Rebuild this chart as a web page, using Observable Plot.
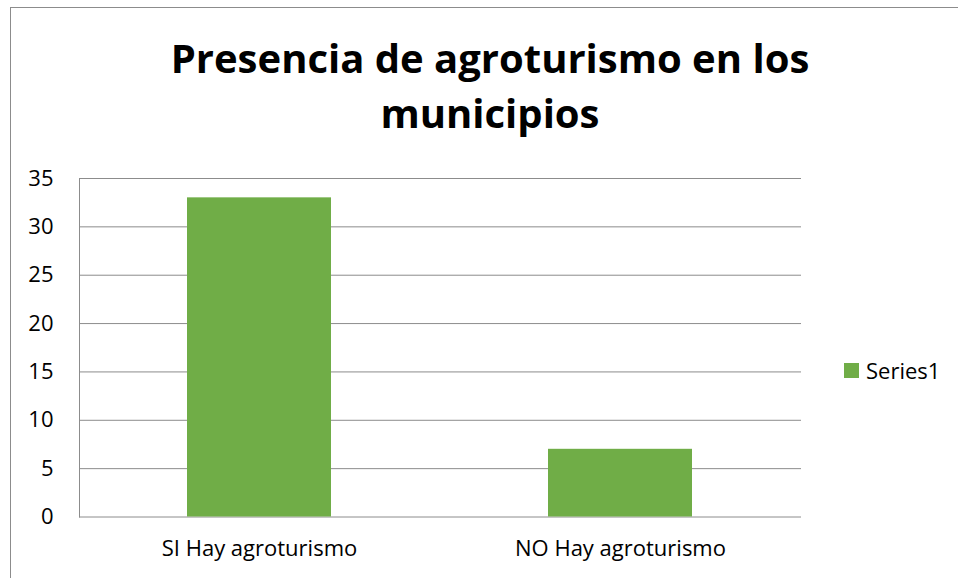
<!DOCTYPE html>
<html>
<head>
<meta charset="utf-8">
<script src="https://cdn.jsdelivr.net/npm/d3@7"></script>
<script src="https://cdn.jsdelivr.net/npm/@observablehq/plot@0.6"></script>
<style>
  html, body { margin: 0; padding: 0; background: #fff; }
  #wrap { position: relative; width: 958px; height: 578px; overflow: hidden; font-family: "Open Sans", sans-serif; }
  #frame { position: absolute; left: 10px; top: 7px; width: 1000px; height: 700px; border: 1px solid #8c8c8c; box-sizing: border-box; }
  #title { position: absolute; left: 90px; top: 0; width: 800px; height: 150px; text-align: center; font-weight: 700; font-size: 40px; line-height: 55px; padding-top: 30px; box-sizing: border-box; color: #000; }
  #chart { position: absolute; left: 0; top: 150px; }
  #legend { position: absolute; left: 844px; top: 355px; display: flex; align-items: center; font-size: 22px; color: #000; }
  #legend .sw { width: 15px; height: 15px; background: #70ad47; margin-right: 7px; }
</style>
</head>
<body>
<div id="wrap">
  <div id="frame"></div>
  <div id="title">Presencia de agroturismo en los<br>municipios</div>
  <div id="chart"></div>
  <div id="legend"><div class="sw"></div><span>Series1</span></div>
</div>
<script>
const categories = ["SI Hay agroturismo", "NO Hay agroturismo"];
const values = [33, 7];
const yTicks = [0, 5, 10, 15, 20, 25, 30, 35];
const seriesName = "Series1";

const data = categories.map((c, i) => ({ category: c, value: values[i] }));

const chart = Plot.plot({
  width: 958,
  height: 428,
  marginLeft: 79,
  marginRight: 157,
  marginTop: 28,
  marginBottom: 61.5,
  style: { fontFamily: "Open Sans, sans-serif", fontSize: "22px", color: "#000", background: "transparent" },
  x: { domain: categories, paddingInner: 0.6, paddingOuter: 0.3, label: null },
  y: { domain: [0, 35], label: null },
  marks: [
    Plot.gridY(yTicks, { stroke: "#8c8c8c", strokeOpacity: 1, strokeWidth: 1 }),
    Plot.frame({ anchor: "left", stroke: "#8c8c8c", strokeWidth: 1 }),
    Plot.barY(data, { x: "category", y: "value", fill: "#70ad47" }),
    Plot.axisY({ ticks: yTicks, tickSize: 0, tickPadding: 26, label: null, fontSize: 22 }),
    Plot.axisX({ tickSize: 0, tickPadding: 23, label: null, fontSize: 22 })
  ]
});
document.getElementById("chart").appendChild(chart);
</script>
</body>
</html>
